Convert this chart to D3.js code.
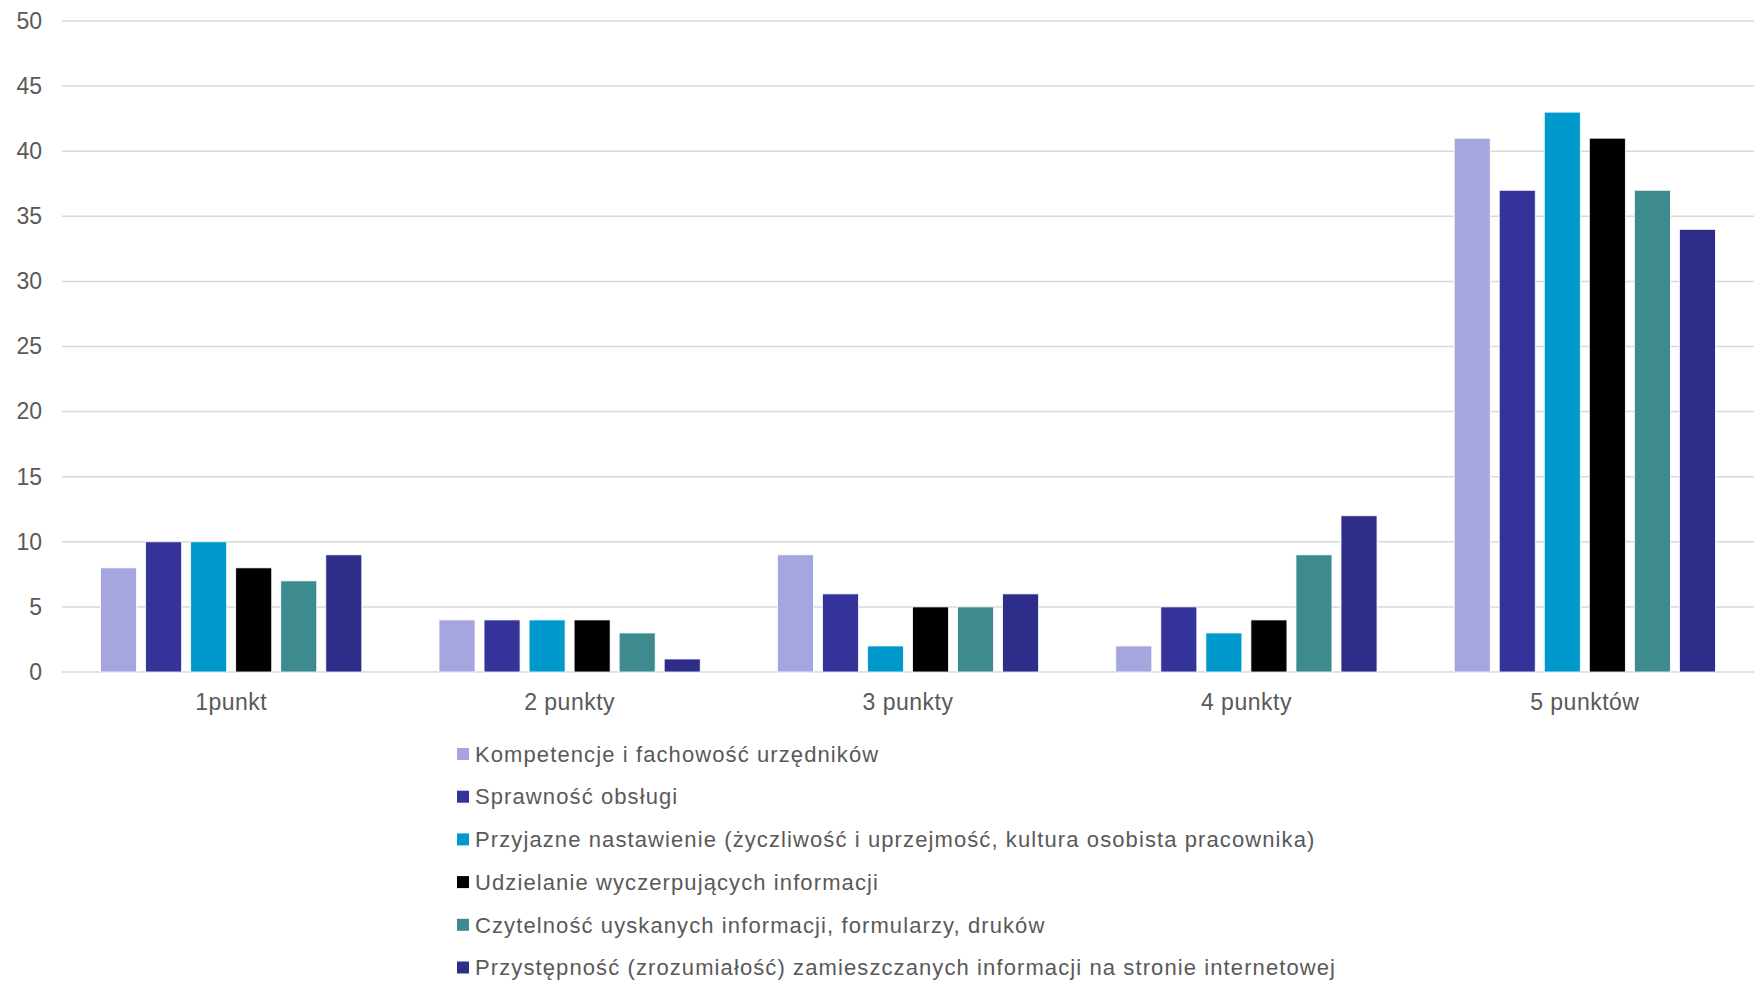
<!DOCTYPE html>
<html>
<head>
<meta charset="utf-8">
<script src="https://cdn.jsdelivr.net/npm/d3@7"></script>
<style>
  body { margin: 0; background: #fff; }
  svg text { font-family: "Liberation Sans", Arial, sans-serif; fill: #595959; }
</style>
</head>
<body>
<div class="chart"></div>
<script>
const categories = ['1punkt', '2 punkty', '3 punkty', '4 punkty', '5 punktów'];
const seriesNames = [
    'Kompetencje i fachowość urzędników',
    'Sprawność obsługi',
    'Przyjazne nastawienie (życzliwość i uprzejmość, kultura osobista pracownika)',
    'Udzielanie wyczerpujących informacji',
    'Czytelność uyskanych informacji, formularzy, druków',
    'Przystępność (zrozumiałość) zamieszczanych informacji na stronie internetowej'
];
const seriesColors = ['#a5a5df', '#333399', '#0099cc', '#000000', '#3d8b8f', '#2e2e8a'];
// one array per series, in category order
const kompetencje = [8, 4, 9, 2, 41];
const sprawnosc = [10, 4, 6, 5, 37];
const przyjazne = [10, 4, 2, 3, 43];
const udzielanie = [8, 4, 5, 4, 41];
const czytelnosc = [7, 3, 5, 9, 37];
const przystepnosc = [9, 1, 6, 12, 34];
const seriesValues = [kompetencje, sprawnosc, przyjazne, udzielanie, czytelnosc, przystepnosc];
const yTicks = [0, 5, 10, 15, 20, 25, 30, 35, 40, 45, 50];

const width = 1762, height = 983;
const margin = { left: 62, right: 8, top: 21, bottom: 311 };

const svg = d3.select('.chart').append('svg')
    .attr('width', width)
    .attr('height', height);

const x0 = d3.scaleBand()
    .domain(categories)
    .range([margin.left, width - margin.right])
    .paddingInner(0.228)
    .paddingOuter(0.114);

const x1 = d3.scaleBand()
    .domain(d3.range(seriesNames.length))
    .range([0, x0.bandwidth()])
    .paddingInner(0.2);

const y = d3.scaleLinear()
    .domain([0, 50])
    .range([height - margin.bottom, margin.top]);

// grid
svg.append('g')
    .selectAll('line')
    .data(yTicks)
    .enter()
    .append('line')
    .attr('x1', margin.left)
    .attr('x2', width - margin.right)
    .attr('y1', d => y(d))
    .attr('y2', d => y(d))
    .attr('stroke', '#d9d9d9')
    .attr('stroke-width', 1.5);

// y axis labels
const yAxis = d3.axisLeft(y).tickValues(yTicks).tickSize(0).tickPadding(20);
const gy = svg.append('g')
    .attr('transform', `translate(${margin.left}, 0)`)
    .call(yAxis);
gy.select('.domain').remove();
gy.selectAll('text').attr('font-size', 23).attr('fill', '#595959');

// bars
const groups = svg.append('g')
    .selectAll('g')
    .data(categories)
    .enter()
    .append('g')
    .attr('transform', d => `translate(${x0(d)}, 0)`);

groups.selectAll('rect')
    .data((d, ci) => seriesValues.map((vals, si) => ({ si, v: vals[ci] })))
    .enter()
    .append('rect')
    .attr('x', d => x1(d.si))
    .attr('y', d => y(d.v))
    .attr('width', x1.bandwidth())
    .attr('height', d => y(0) - y(d.v))
    .attr('fill', d => seriesColors[d.si])
    .attr('stroke', '#ffffff')
    .attr('stroke-width', 0.8);

// category labels
const xAxis = d3.axisBottom(x0).tickSize(0).tickPadding(22);
const gx = svg.append('g')
    .attr('transform', `translate(0, ${y(0)})`)
    .call(xAxis);
gx.select('.domain').remove();
gx.selectAll('text')
    .attr('font-size', 23)
    .attr('letter-spacing', '0.5px')
    .attr('fill', '#595959');

// legend
const legend = svg.append('g')
    .attr('transform', 'translate(457, 754)');

const items = legend.selectAll('g')
    .data(seriesNames)
    .enter()
    .append('g')
    .attr('transform', (d, i) => `translate(0, ${i * 42.7})`);

items.append('rect')
    .attr('x', 0)
    .attr('y', -6)
    .attr('width', 12)
    .attr('height', 12)
    .attr('fill', (d, i) => seriesColors[i]);

items.append('text')
    .attr('x', 18)
    .attr('y', 0)
    .attr('dy', '0.35em')
    .attr('font-size', 22)
    .attr('letter-spacing', '1.1px')
    .text(d => d);
</script>
</body>
</html>
